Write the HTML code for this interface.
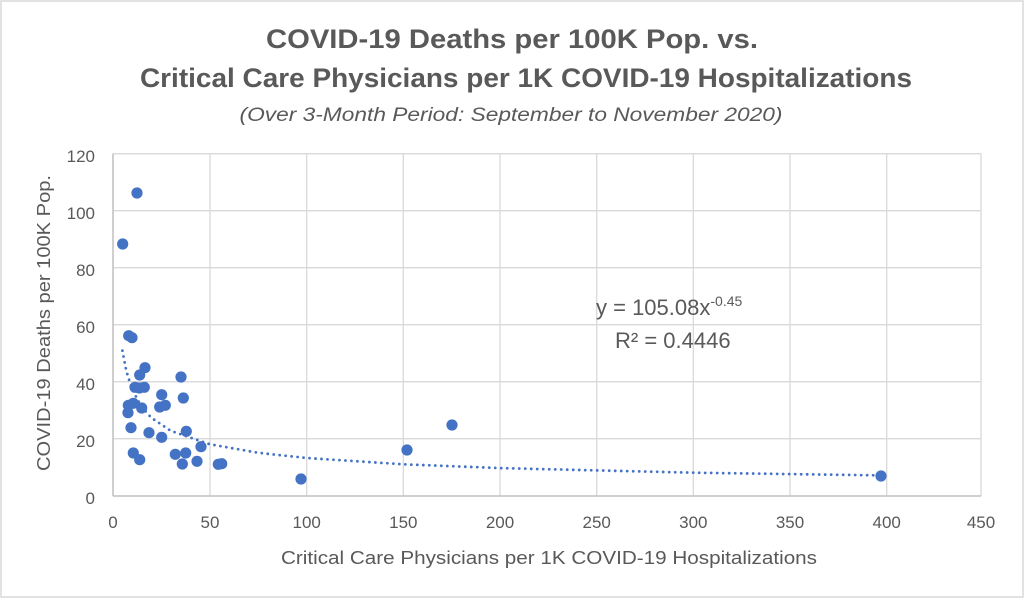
<!DOCTYPE html>
<html><head><meta charset="utf-8"><style>
html,body{margin:0;padding:0;background:#fff}
svg{display:block;font-family:"Liberation Sans",sans-serif}
</style></head><body>
<svg width="1024" height="598" viewBox="0 0 1024 598">
<rect x="1" y="1" width="1022" height="596" fill="#fff" stroke="#d9d9d9" stroke-width="1.5"/>
<g fill="#595959" text-anchor="middle">
<text x="512" y="48" font-size="27" font-weight="bold" textLength="492" lengthAdjust="spacingAndGlyphs">COVID-19 Deaths per 100K Pop. vs.</text>
<text x="526" y="87" font-size="27" font-weight="bold" textLength="772" lengthAdjust="spacingAndGlyphs">Critical Care Physicians per 1K COVID-19 Hospitalizations</text>
<text x="511" y="121" font-size="19" font-style="italic" textLength="543" lengthAdjust="spacingAndGlyphs">(Over 3-Month Period: September to November 2020)</text>
</g>
<g stroke="#d9d9d9" stroke-width="1.3">
<line x1="113" y1="153.7" x2="981" y2="153.7"/>
<line x1="113" y1="210.7" x2="981" y2="210.7"/>
<line x1="113" y1="267.7" x2="981" y2="267.7"/>
<line x1="113" y1="324.7" x2="981" y2="324.7"/>
<line x1="113" y1="381.7" x2="981" y2="381.7"/>
<line x1="113" y1="438.7" x2="981" y2="438.7"/>
<line x1="210" y1="153.7" x2="210" y2="496"/>
<line x1="306.7" y1="153.7" x2="306.7" y2="496"/>
<line x1="403.3" y1="153.7" x2="403.3" y2="496"/>
<line x1="500" y1="153.7" x2="500" y2="496"/>
<line x1="596.7" y1="153.7" x2="596.7" y2="496"/>
<line x1="693.3" y1="153.7" x2="693.3" y2="496"/>
<line x1="790" y1="153.7" x2="790" y2="496"/>
<line x1="886.7" y1="153.7" x2="886.7" y2="496"/>
<line x1="981" y1="153.7" x2="981" y2="496"/>
</g>
<g stroke="#bfbfbf" stroke-width="1.5">
<line x1="113" y1="153.7" x2="113" y2="496"/>
<line x1="113" y1="496" x2="981" y2="496"/>
</g>
<g fill="#595959" font-size="17" text-anchor="end">
<text x="95" y="162">120</text><text x="95" y="219">100</text><text x="95" y="276">80</text>
<text x="95" y="333">60</text><text x="95" y="390">40</text><text x="95" y="447">20</text><text x="95" y="504">0</text>
</g>
<g fill="#595959" font-size="17" text-anchor="middle">
<text x="113" y="528">0</text><text x="210" y="528">50</text><text x="306.7" y="528">100</text>
<text x="403.3" y="528">150</text><text x="500" y="528">200</text><text x="596.7" y="528">250</text>
<text x="693.3" y="528">300</text><text x="790" y="528">350</text><text x="886.7" y="528">400</text><text x="981" y="528">450</text>
<text x="549" y="564" font-size="18" textLength="536" lengthAdjust="spacingAndGlyphs">Critical Care Physicians per 1K COVID-19 Hospitalizations</text>
<text transform="translate(50,323) rotate(-90)" font-size="18" textLength="296" lengthAdjust="spacingAndGlyphs">COVID-19 Deaths per 100K Pop.</text>
</g>
<path d="M122.4,350.6 L126.3,370.9 L132.1,389.4 L141.8,407.2 L151.5,417.9 L170.9,430.9 L209.7,444.2 L258.2,452.8 L306.7,458 L403.7,464.3 L500.7,468.1 L694.7,472.7 L882.9,475.4" fill="none" stroke="#4472c4" stroke-width="2.8" stroke-linecap="round" stroke-dasharray="0 6"/>
<g fill="#4472c4">
<circle cx="137" cy="193" r="5.6"/><circle cx="122.7" cy="244" r="5.6"/>
<circle cx="128.7" cy="335.7" r="5.6"/><circle cx="132" cy="337.7" r="5.6"/>
<circle cx="145" cy="367.7" r="5.6"/><circle cx="139.7" cy="375" r="5.6"/>
<circle cx="181" cy="377" r="5.6"/><circle cx="135" cy="387.3" r="5.6"/>
<circle cx="139.3" cy="388" r="5.6"/><circle cx="144.3" cy="387.3" r="5.6"/>
<circle cx="161.7" cy="394.7" r="5.6"/><circle cx="183.3" cy="398" r="5.6"/>
<circle cx="128.3" cy="405.3" r="5.6"/><circle cx="133.3" cy="403.3" r="5.6"/>
<circle cx="141.7" cy="408" r="5.6"/><circle cx="159.7" cy="407" r="5.6"/>
<circle cx="165.3" cy="405.3" r="5.6"/><circle cx="128" cy="412.7" r="5.6"/>
<circle cx="131" cy="427.7" r="5.6"/><circle cx="149" cy="432.7" r="5.6"/>
<circle cx="161.7" cy="437.3" r="5.6"/><circle cx="186.3" cy="431.3" r="5.6"/>
<circle cx="201" cy="446.7" r="5.6"/><circle cx="133.3" cy="453" r="5.6"/>
<circle cx="139.7" cy="459.7" r="5.6"/><circle cx="175.3" cy="454.3" r="5.6"/>
<circle cx="185.7" cy="453" r="5.6"/><circle cx="182.3" cy="464" r="5.6"/>
<circle cx="197" cy="461.3" r="5.6"/><circle cx="218.3" cy="464.3" r="5.6"/>
<circle cx="221.7" cy="463.7" r="5.6"/><circle cx="301" cy="479" r="5.6"/>
<circle cx="407" cy="450" r="5.6"/><circle cx="452" cy="425" r="5.6"/>
<circle cx="881" cy="476" r="5.6"/>
</g>
<g fill="#595959" font-size="22">
<text x="596" y="315">y = 105.08x<tspan font-size="14" dy="-9">-0.45</tspan></text>
<text x="615" y="348">R² = 0.4446</text>
</g>
</svg>
</body></html>
